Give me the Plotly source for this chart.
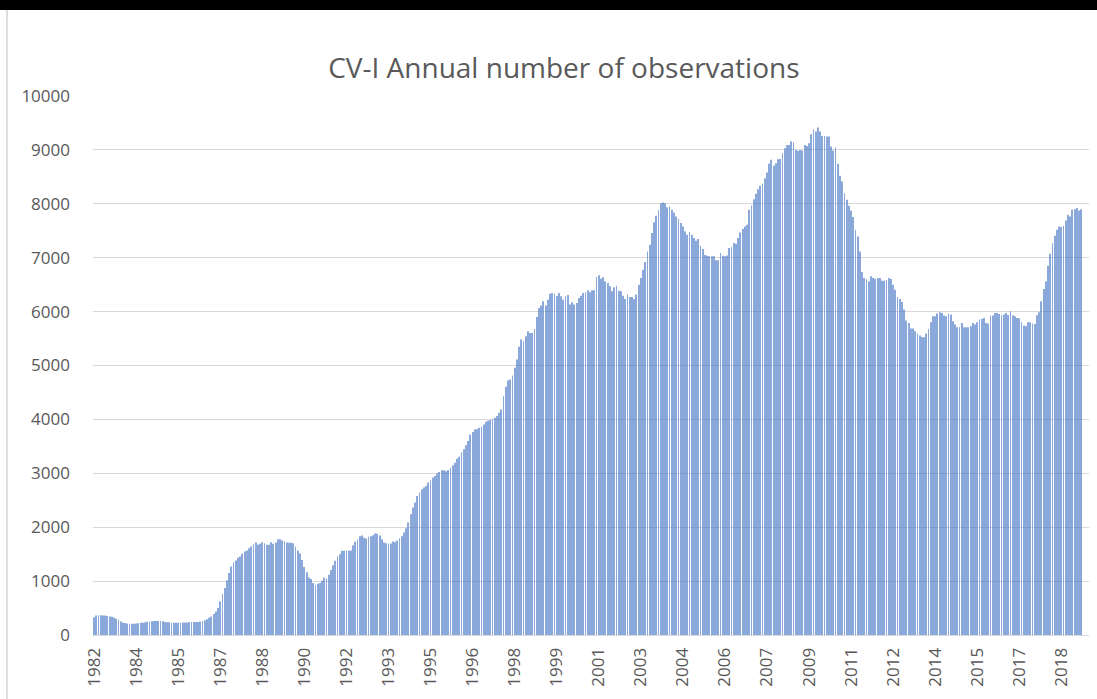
import pandas as pd
import plotly.graph_objects as go

# Monthly values (rolling annual number of observations), starting July 1982
values = [
    327, 364, 366, 365, 364, 362, 352, 345, 340, 320,
    300, 284, 250, 225, 222, 212, 210, 210, 210, 212,
    220, 228, 228, 235, 245, 250, 255, 258, 258, 260,
    262, 255, 240, 235, 235, 233, 228, 228, 228, 230,
    230, 230, 232, 238, 240, 240, 240, 242, 252, 262,
    272, 290, 320, 345, 390, 438, 500, 623, 765, 870,
    1012, 1148, 1272, 1352, 1383, 1432, 1457, 1506, 1549, 1568,
    1611, 1642, 1685, 1716, 1673, 1691, 1722, 1704, 1673, 1673,
    1722, 1691, 1716, 1778, 1778, 1753, 1741, 1716, 1712, 1712,
    1704, 1640, 1570, 1510, 1390, 1260, 1165, 1068, 1037, 963,
    926, 951, 963, 1006, 1062, 1049, 1117, 1204, 1296, 1377,
    1457, 1500, 1562, 1562, 1562, 1562, 1568, 1667, 1728, 1772,
    1833, 1846, 1802, 1790, 1821, 1833, 1852, 1883, 1877, 1846,
    1778, 1716, 1704, 1691, 1698, 1735, 1722, 1753, 1796, 1833,
    1901, 1981, 2086, 2241, 2364, 2457, 2580, 2642, 2704, 2735,
    2765, 2827, 2870, 2920, 2951, 2994, 3025, 3056, 3056, 3037,
    3062, 3105, 3148, 3198, 3272, 3309, 3395, 3444, 3519, 3599,
    3722, 3765, 3815, 3815, 3846, 3864, 3907, 3957, 3975, 3988,
    4012, 4031, 4062, 4123, 4185, 4432, 4605, 4722, 4741, 4815,
    4957, 5111, 5346, 5481, 5451, 5543, 5636, 5605, 5605, 5679,
    5901, 6068, 6111, 6191, 6111, 6222, 6333, 6346, 6333, 6296,
    6346, 6284, 6222, 6284, 6309, 6130, 6173, 6130, 6160, 6253,
    6296, 6346, 6358, 6395, 6358, 6395, 6395, 6642, 6673, 6611,
    6636, 6562, 6531, 6469, 6377, 6451, 6481, 6389, 6377, 6296,
    6235, 6315, 6272, 6272, 6235, 6315, 6500, 6623, 6778, 6920,
    7117, 7241, 7457, 7660, 7778, 7889, 8012, 8025, 8012, 7938,
    7951, 7889, 7840, 7765, 7716, 7642, 7580, 7488, 7426, 7475,
    7426, 7364, 7315, 7346, 7222, 7160, 7050, 7035, 7025, 7025,
    7025, 6951, 6951, 7086, 7037, 7025, 7043, 7179, 7198, 7272,
    7259, 7364, 7469, 7531, 7580, 7611, 7889, 7969, 8086, 8185,
    8272, 8333, 8370, 8475, 8580, 8741, 8815, 8704, 8753, 8827,
    8833, 8938, 9031, 9093, 9093, 9154, 9142, 9000, 8981, 9000,
    8988, 9093, 9074, 9123, 9290, 9383, 9340, 9414, 9340, 9259,
    9259, 9247, 9247, 9062, 8988, 9049, 8741, 8519, 8414, 8198,
    8074, 7963, 7877, 7753, 7519, 7395, 7117, 6735, 6623, 6605,
    6562, 6654, 6623, 6611, 6623, 6623, 6574, 6574, 6580, 6625,
    6605, 6500, 6407, 6272, 6235, 6179, 6037, 5833, 5790, 5685,
    5685, 5636, 5593, 5556, 5531, 5525, 5593, 5679, 5802, 5914,
    5914, 5963, 5988, 5975, 5926, 5914, 5963, 5944, 5821, 5759,
    5710, 5710, 5790, 5710, 5710, 5710, 5728, 5790, 5759, 5802,
    5852, 5864, 5883, 5790, 5778, 5926, 5926, 5975, 5975, 5957,
    5932, 5944, 5975, 5938, 6006, 5932, 5914, 5883, 5877, 5802,
    5741, 5728, 5802, 5802, 5778, 5772, 5932, 5988, 6191, 6420,
    6562, 6852, 7074, 7272, 7407, 7519, 7580, 7568, 7593, 7691,
    7796, 7765, 7889, 7901, 7920, 7877, 7901,
]

months = [d.strftime("%Y-%m") for d in pd.date_range("1982-07-01", periods=len(values), freq="MS")]
tick_every = 19
tick_labels = ["1982", "1984", "1985", "1987", "1988", "1990", "1992", "1993",
               "1995", "1996", "1998", "1999", "2001", "2003", "2004", "2006",
               "2007", "2009", "2011", "2012", "2014", "2015", "2017", "2018"]
tick_vals = months[::tick_every][:len(tick_labels)]
y_ticks = list(range(0, 10001, 1000))
y_tick_text = [str(v) for v in y_ticks]
n_slots = 450

W, H = 1097, 699
ML, MR, MT, MB = 93, 8, 96, 64

fig = go.Figure(go.Bar(
    x=months, y=values,
    marker=dict(color="#4472C4", opacity=0.62, line=dict(width=0)),
))

fig.update_layout(
    width=W, height=H,
    margin=dict(l=ML, r=MR, t=MT, b=MB),
    paper_bgcolor="white", plot_bgcolor="white",
    bargap=0.62,
    showlegend=False,
    font=dict(family="Open Sans", color="#595959"),
    title=dict(text="CV-I Annual number of observations",
               x=0.514, xref="container", xanchor="center",
               y=1 - 68 / H, yref="container", yanchor="middle",
               font=dict(size=28, color="#595959", family="Open Sans")),
    xaxis=dict(type="category", range=[-0.5, n_slots - 0.5],
               tickmode="array", tickvals=tick_vals, ticktext=tick_labels,
               tickangle=-90, tickfont=dict(size=17, color="#595959"),
               showgrid=False, showline=True, linecolor="#d9d9d9", linewidth=1,
               ticks="", ticklabelstandoff=5),
    yaxis=dict(range=[0, 10000], tickmode="array", tickvals=y_ticks, ticktext=y_tick_text,
               tickfont=dict(size=17, color="#595959"),
               showgrid=True, gridcolor="#d9d9d9", gridwidth=1,
               zeroline=False, showline=False, ticks="", ticklabelstandoff=22),
)

# screenshot frame: dark band along the top, thin grey rule at left
pw, ph = W - ML - MR, H - MT - MB
def px(x):
    return (x - ML) / pw
def py(y):
    return (H - MB - y) / ph
fig.add_shape(type="rect", xref="paper", yref="paper",
              x0=px(0), x1=px(W), y0=py(10), y1=py(0),
              fillcolor="black", line=dict(width=0), layer="above")
fig.add_shape(type="line", xref="paper", yref="paper",
              x0=px(7), x1=px(7), y0=py(H), y1=py(10),
              line=dict(color="#bfbfbf", width=1), layer="above")

fig.write_html("out.html", config={"displayModeBar": False},
               post_script="document.body.style.margin='0';document.body.style.overflow='hidden';")
